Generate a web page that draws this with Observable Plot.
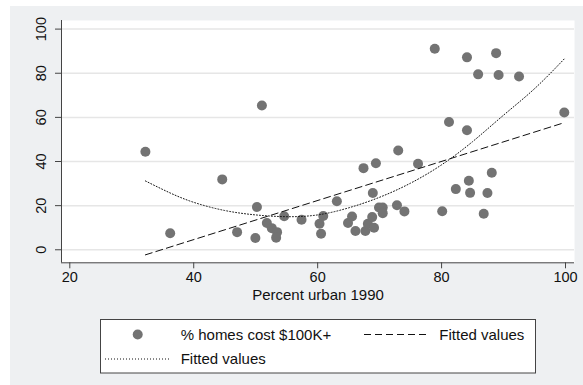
<!DOCTYPE html>
<html><head><meta charset="utf-8">
<script src="https://cdn.jsdelivr.net/npm/d3@7"></script>
<script src="https://cdn.jsdelivr.net/npm/@observablehq/plot@0.6"></script>
<style>
html,body{margin:0;padding:0;background:#fff;}
#bg{position:absolute;left:10px;top:6px;width:573px;height:379px;background:#eef0f2;}
#chart{position:absolute;left:0;top:0;}
#legend{position:absolute;left:100px;top:319px;}
</style></head><body>
<div id="bg"></div><div id="chart"></div><div id="legend"></div>
<script>
// Scatter: percent urban 1990 vs % homes costing $100K+
const urban = [32.2, 36.2, 44.6, 51.0, 47.0, 49.95, 50.2, 51.8, 52.6, 53.45,
  53.3, 54.6, 57.4, 60.3, 60.9, 60.55, 63.1, 64.9, 65.55, 66.1,
  67.4, 67.7, 68.1, 68.8, 68.9, 69.1, 69.4, 69.9, 70.5, 70.5,
  72.8, 74.0, 73.0, 76.2, 78.9, 80.1, 81.2, 82.3, 84.1, 84.1,
  84.4, 84.6, 85.9, 86.8, 87.4, 88.1, 88.8, 89.2, 92.5, 99.8];
const homes = [44.4, 7.5, 31.9, 65.4, 8.0, 5.3, 19.4, 12.1, 9.8, 8.0,
  5.5, 15.2, 13.6, 11.8, 15.3, 7.3, 22.0, 12.1, 15.1, 8.5,
  37.0, 8.5, 11.8, 14.8, 25.7, 10.0, 39.2, 19.2, 19.2, 16.6,
  20.2, 17.4, 45.0, 39.0, 91.1, 17.5, 57.9, 27.5, 87.2, 54.2,
  31.3, 25.8, 79.5, 16.3, 25.7, 34.9, 89.1, 79.2, 78.5, 62.2];
// Linear fitted values
const linFitX = [32.2, 99.8];
const linFitY = [-2.3, 57.6];
// Quadratic fitted values
const quadFitX = [32.2, 36, 40, 45, 50, 55, 60, 65, 70, 75, 80, 85, 90, 95, 99.8];
const quadFitY = [31.2, 26.0, 21.5, 17.8, 15.8, 15.0, 15.8, 19.0, 23.8, 30.2, 38.5, 49.0, 61.0, 73.0, 86.5];
const xTicks = [20, 40, 60, 80, 100];
const yTicks = [0, 20, 40, 60, 80, 100];
const xTitle = "Percent urban 1990";
const seriesNames = ["% homes cost $100K+", "Fitted values", "Fitted values"];

const xDomain = [18.66, 101.45], yDomain = [-5.9, 103.9];
const pts = urban.map((x, i) => ({x, y: homes[i]}));
const lin = linFitX.map((x, i) => ({x, y: linFitY[i]}));
const quad = quadFitX.map((x, i) => ({x, y: quadFitY[i]}));
const FONT = "'Liberation Sans', Arial, Helvetica, sans-serif";

const plot = Plot.plot({
  width: 583, height: 310,
  marginLeft: 61, marginRight: 9, marginTop: 20, marginBottom: 47.7,
  style: {background: "transparent", fontFamily: FONT, fontSize: "14.5px", color: "#111"},
  x: {domain: xDomain},
  y: {domain: yDomain},
  marks: [
    Plot.frame({fill: "white", stroke: "none"}),
    Plot.ruleY(yTicks, {stroke: "#e6e6e6", strokeWidth: 1.5}),
    Plot.ruleX([xDomain[0]], {stroke: "#444"}),
    Plot.ruleY([yDomain[0]], {stroke: "#444"}),
    Plot.axisX({ticks: xTicks, tickSize: 6, tickPadding: 3, label: null, stroke: "#444"}),
    Plot.axisY({ticks: yTicks, tickSize: 6, tickRotate: -90, tickPadding: 10, label: null, stroke: "#444"}),
    Plot.dot(pts, {x: "x", y: "y", r: 5, fill: "#737373", stroke: "none"}),
    Plot.line(lin, {x: "x", y: "y", stroke: "#111", strokeWidth: 1, strokeDasharray: "7,4"}),
    Plot.line(quad, {x: "x", y: "y", curve: "natural", stroke: "#111", strokeWidth: 1, strokeDasharray: "1,2"}),
    Plot.text([xTitle], {frameAnchor: "bottom", dy: 37, fontSize: 15, fill: "#111"})
  ]
});
document.getElementById("chart").appendChild(plot);

// Legend
const L = d3.select("#legend").append("svg").attr("width", 437).attr("height", 56)
  .style("font-family", FONT).style("font-size", "15px");
L.append("rect").attr("x", 0.5).attr("y", 0.5).attr("width", 435).attr("height", 53.5)
  .attr("fill", "white").attr("stroke", "#444");
L.append("circle").attr("cx", 37.7).attr("cy", 15.5).attr("r", 5).attr("fill", "#737373");
L.append("text").attr("x", 80.7).attr("y", 15.5).attr("dy", "0.35em").attr("fill", "#111").text(seriesNames[0]);
L.append("line").attr("x1", 264).attr("x2", 328).attr("y1", 15.5).attr("y2", 15.5)
  .attr("stroke", "#111").attr("stroke-dasharray", "7,4");
L.append("text").attr("x", 339.3).attr("y", 15.5).attr("dy", "0.35em").attr("fill", "#111").text(seriesNames[1]);
L.append("line").attr("x1", 5).attr("x2", 71).attr("y1", 40).attr("y2", 40)
  .attr("stroke", "#111").attr("stroke-dasharray", "1,2");
L.append("text").attr("x", 80.7).attr("y", 40).attr("dy", "0.35em").attr("fill", "#111").text(seriesNames[2]);
</script>
</body></html>
